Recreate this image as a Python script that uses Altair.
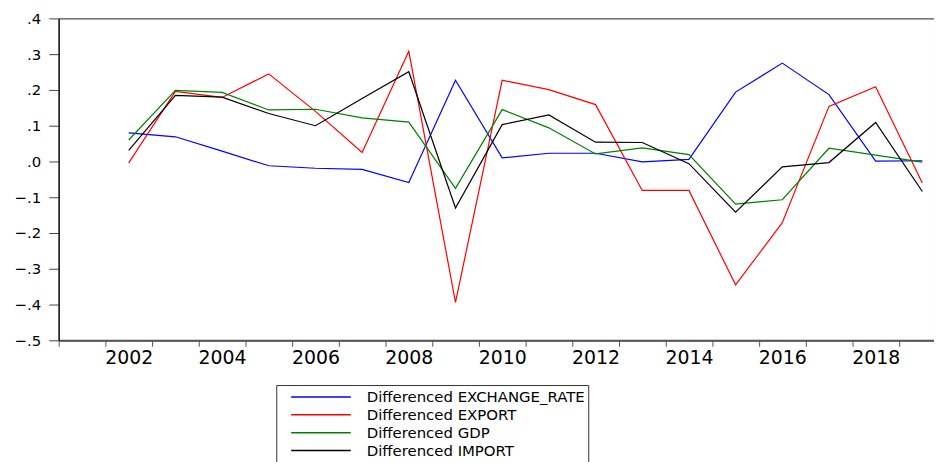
import altair as alt
import pandas as pd

years = list(range(2002, 2020))
exchange_rate = [0.080, 0.069, 0.029, -0.012, -0.019, -0.022, -0.059, 0.227, 0.010,
                 0.023, 0.023, -0.001, 0.006, 0.194, 0.275, 0.187, 0.001, 0.002]
export = [-0.004, 0.196, 0.179, 0.245, 0.140, 0.025, 0.308, -0.394, 0.227,
          0.201, 0.159, -0.081, -0.081, -0.345, -0.171, 0.154, 0.209, -0.060]
gdp = [0.060, 0.199, 0.193, 0.144, 0.146, 0.122, 0.110, -0.075, 0.145,
       0.094, 0.021, 0.038, 0.019, -0.119, -0.107, 0.037, 0.018, -0.002]
imports = [0.031, 0.185, 0.180, 0.134, 0.100, 0.176, 0.251, -0.130, 0.103,
           0.130, 0.054, 0.053, -0.006, -0.142, -0.015, -0.003, 0.109, -0.084]

series_names = ["Differenced EXCHANGE_RATE", "Differenced EXPORT",
                "Differenced GDP", "Differenced IMPORT"]
series_colors = ["#0000FF", "#FF0000", "#008000", "#000000"]
y_ticks = [-0.5, -0.4, -0.3, -0.2, -0.1, 0.0, 0.1, 0.2, 0.3, 0.4]
x_ticks = [2000.5 + i for i in range(19)]

rows = []
for name, vals in zip(series_names, [exchange_rate, export, gdp, imports]):
    for yr, v in zip(years, vals):
        rows.append({"year": yr, "value": v, "series": name})
df = pd.DataFrame(rows)

chart = alt.Chart(df).mark_line(strokeWidth=1.2).encode(
    x=alt.X("year:Q",
            scale=alt.Scale(domain=[2000.5, 2019.25], nice=False, zero=False),
            axis=alt.Axis(values=x_ticks, title=None, grid=False,
                          labelExpr="(datum.value+0.5)%2==0 ? format(datum.value+0.5,'d') : ''",
                          labelOffset=23.5, labelFlush=False, tickSize=6, labelPadding=2,
                          labelFont="DejaVu Sans", labelFontSize=19, labelColor="#000000",
                          domainColor="#555555", domainWidth=2, tickColor="#555555")),
    y=alt.Y("value:Q",
            scale=alt.Scale(domain=[-0.5, 0.4], nice=False, zero=False),
            axis=alt.Axis(values=y_ticks, title=None, grid=False,
                          labelExpr="replace(format(datum.value, '.1f'), '0.', '.')",
                          tickSize=10, labelPadding=8,
                          labelFont="DejaVu Sans", labelFontSize=15, labelColor="#000000",
                          domainColor="#222222", domainWidth=1.5, tickColor="#444444")),
    color=alt.Color("series:N",
                    scale=alt.Scale(domain=series_names, range=series_colors),
                    legend=alt.Legend(orient="none", legendX=219, legendY=369,
                                      direction="vertical", title=None,
                                      symbolType="stroke", symbolSize=3600,
                                      symbolStrokeWidth=1.5, labelOffset=15,
                                      symbolOffset=11, clipHeight=18, rowPadding=0,
                                      padding=3, strokeColor="#333333",
                                      fillColor="#FFFFFF", labelLimit=600,
                                      labelFont="DejaVu Sans", labelFontSize=15,
                                      labelColor="#000000")),
    order=alt.Order("series:N"),
).properties(
    width=881, height=324,
    autosize="none",
    padding={"left": 51, "top": 9, "right": 0, "bottom": 121},
).configure_view(stroke="#222222", strokeWidth=1)

chart.save("out.html", embed_options={"renderer": "svg", "actions": False})
